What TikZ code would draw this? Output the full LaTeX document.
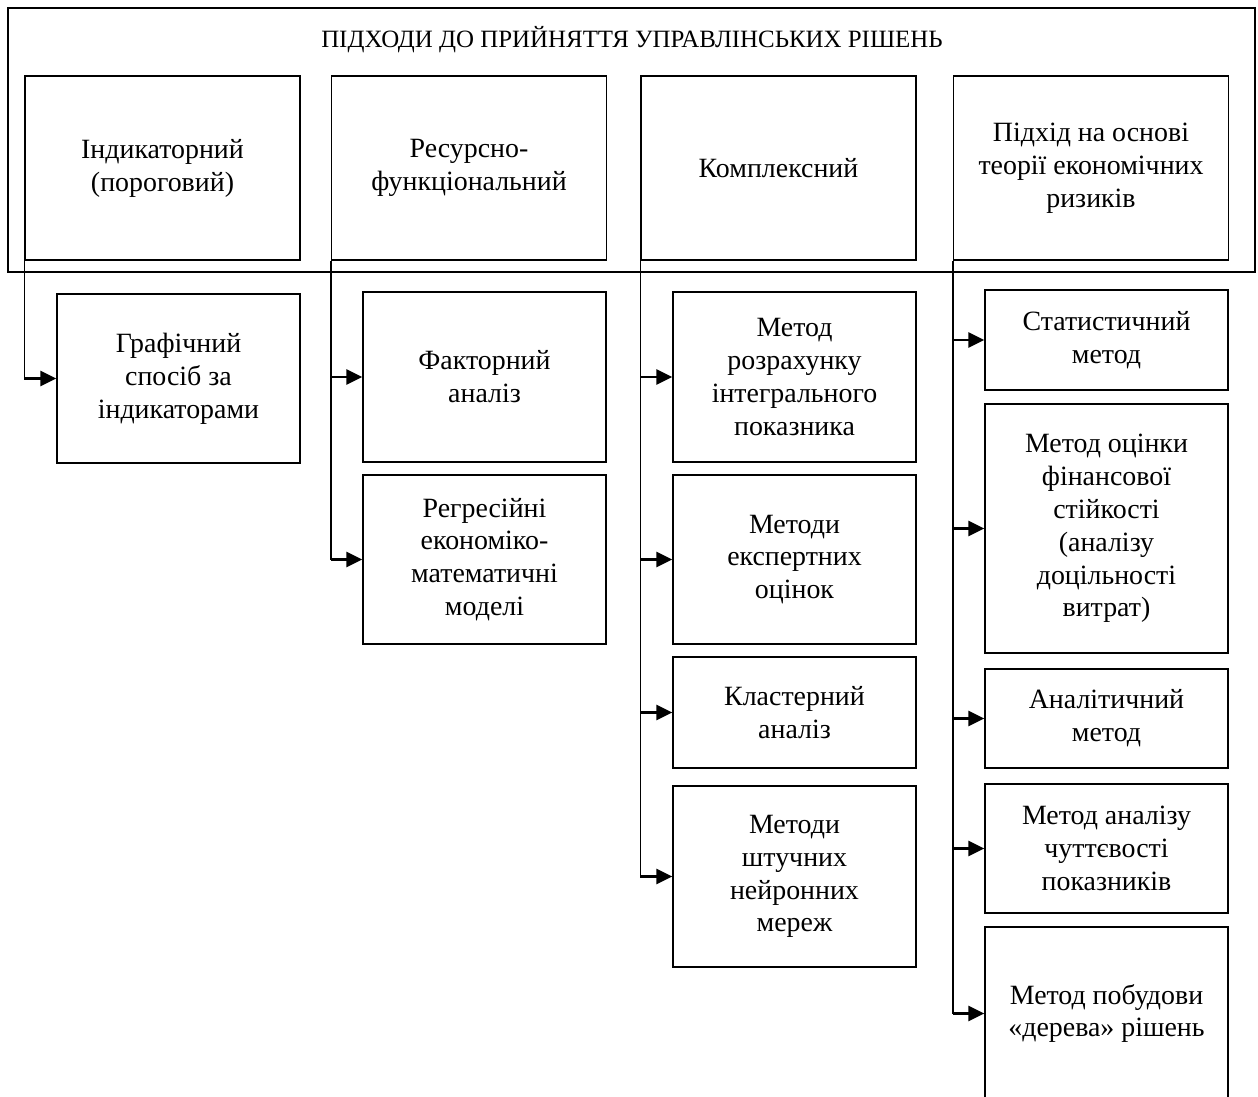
\documentclass[tikz,border=0pt]{standalone}
\usepackage{fontspec}
\setmainfont{Liberation Serif}
\usetikzlibrary{arrows.meta}
\def\txtTitle{ПІДХОДИ ДО ПРИЙНЯТТЯ УПРАВЛІНСЬКИХ РІШЕНЬ}
\def\txtApproachA{Індикаторний\\(пороговий)}
\def\txtApproachB{Ресурсно-\\функціональний}
\def\txtApproachC{Комплексний}
\def\txtApproachD{Підхід на основі\\теорії економічних\\ризиків}
\def\txtMethodAA{Графічний\\спосіб за\\індикаторами}
\def\txtMethodBA{Факторний\\аналіз}
\def\txtMethodBB{Регресійні\\економіко-\\математичні\\моделі}
\def\txtMethodCA{Метод\\розрахунку\\інтегрального\\показника}
\def\txtMethodCB{Методи\\експертних\\оцінок}
\def\txtMethodCC{Кластерний\\аналіз}
\def\txtMethodCD{Методи\\штучних\\нейронних\\мереж}
\def\txtMethodDA{Статистичний\\метод}
\def\txtMethodDB{Метод оцінки\\фінансової\\стійкості\\(аналізу\\доцільності\\витрат)}
\def\txtMethodDC{Аналітичний\\метод}
\def\txtMethodDD{Метод аналізу\\чуттєвості\\показників}
\def\txtMethodDE{Метод побудови\\«дерева» рішень}
\tikzset{
boxText/.style={font=\fontsize{28}{33}\selectfont, align=center, inner sep=0pt},
titleText/.style={font=\fontsize{25}{30}\selectfont, inner sep=0pt},
frameBox/.style={draw, line width=1.3bp, inner sep=0pt, minimum width=1247bp, minimum height=264bp},
approachBox/.style={boxText, draw, line width=1.3bp, minimum width=275bp, minimum height=184bp},
methodBox/.style={boxText, draw, line width=1.3bp, minimum width=243bp},
feedLine/.style={line width=1.3bp},
feedArrow/.style={line width=2.4bp, -{Triangle[length=16bp,width=15bp]}}
}

\begin{document}
\begin{tikzpicture}[x=1bp,y=-1bp]
\useasboundingbox (0, 0) rectangle (1258, 1097);

% frame with title
\node[frameBox] (frame) at (631.5, 140) {};
\node[titleText] (title) at (632, 40) {\txtTitle};

% approach layer
\node[approachBox] (approachA) at (162.5, 168) {\txtApproachA};
\node[approachBox] (approachB) at (469, 168) {\txtApproachB};
\node[approachBox] (approachC) at (778.5, 168) {\txtApproachC};
\node[approachBox] (approachD) at (1091, 168) {\txtApproachD};

% method layer
\node[methodBox, minimum height=169bp] (methodAA) at (178.5, 378.5) {\txtMethodAA};

\node[methodBox, minimum height=170bp] (methodBA) at (484.5, 377) {\txtMethodBA};
\node[methodBox, minimum height=169bp] (methodBB) at (484.5, 559.5) {\txtMethodBB};

\node[methodBox, minimum height=170bp] (methodCA) at (794.5, 377) {\txtMethodCA};
\node[methodBox, minimum height=169bp] (methodCB) at (794.5, 559.5) {\txtMethodCB};
\node[methodBox, minimum height=111bp] (methodCC) at (794.5, 712.5) {\txtMethodCC};
\node[methodBox, minimum height=181bp] (methodCD) at (794.5, 876.5) {\txtMethodCD};

\node[methodBox, minimum height=100bp] (methodDA) at (1106.5, 340) {\txtMethodDA};
\node[methodBox, minimum height=249bp] (methodDB) at (1106.5, 528.5) {\txtMethodDB};
\node[methodBox, minimum height=99bp] (methodDC) at (1106.5, 718.5) {\txtMethodDC};
\node[methodBox, minimum height=129bp] (methodDD) at (1106.5, 848.5) {\txtMethodDD};
\node[methodBox, minimum height=173bp] (methodDE) at (1106.5, 1013.5) {\txtMethodDE};

% link layer
\draw[feedLine] (approachA.south west) -- (approachA.south west |- methodAA.west);
\draw[feedArrow] (approachA.south west |- methodAA.west) -- (methodAA.west);

\draw[feedLine] (approachB.south west) -- (approachB.south west |- methodBB.west);
\draw[feedArrow] (approachB.south west |- methodBA.west) -- (methodBA.west);
\draw[feedArrow] (approachB.south west |- methodBB.west) -- (methodBB.west);

\draw[feedLine] (approachC.south west) -- (approachC.south west |- methodCD.west);
\draw[feedArrow] (approachC.south west |- methodCA.west) -- (methodCA.west);
\draw[feedArrow] (approachC.south west |- methodCB.west) -- (methodCB.west);
\draw[feedArrow] (approachC.south west |- methodCC.west) -- (methodCC.west);
\draw[feedArrow] (approachC.south west |- methodCD.west) -- (methodCD.west);

\draw[feedLine] (approachD.south west) -- (approachD.south west |- methodDE.west);
\draw[feedArrow] (approachD.south west |- methodDA.west) -- (methodDA.west);
\draw[feedArrow] (approachD.south west |- methodDB.west) -- (methodDB.west);
\draw[feedArrow] (approachD.south west |- methodDC.west) -- (methodDC.west);
\draw[feedArrow] (approachD.south west |- methodDD.west) -- (methodDD.west);
\draw[feedArrow] (approachD.south west |- methodDE.west) -- (methodDE.west);

\end{tikzpicture}
\end{document}
